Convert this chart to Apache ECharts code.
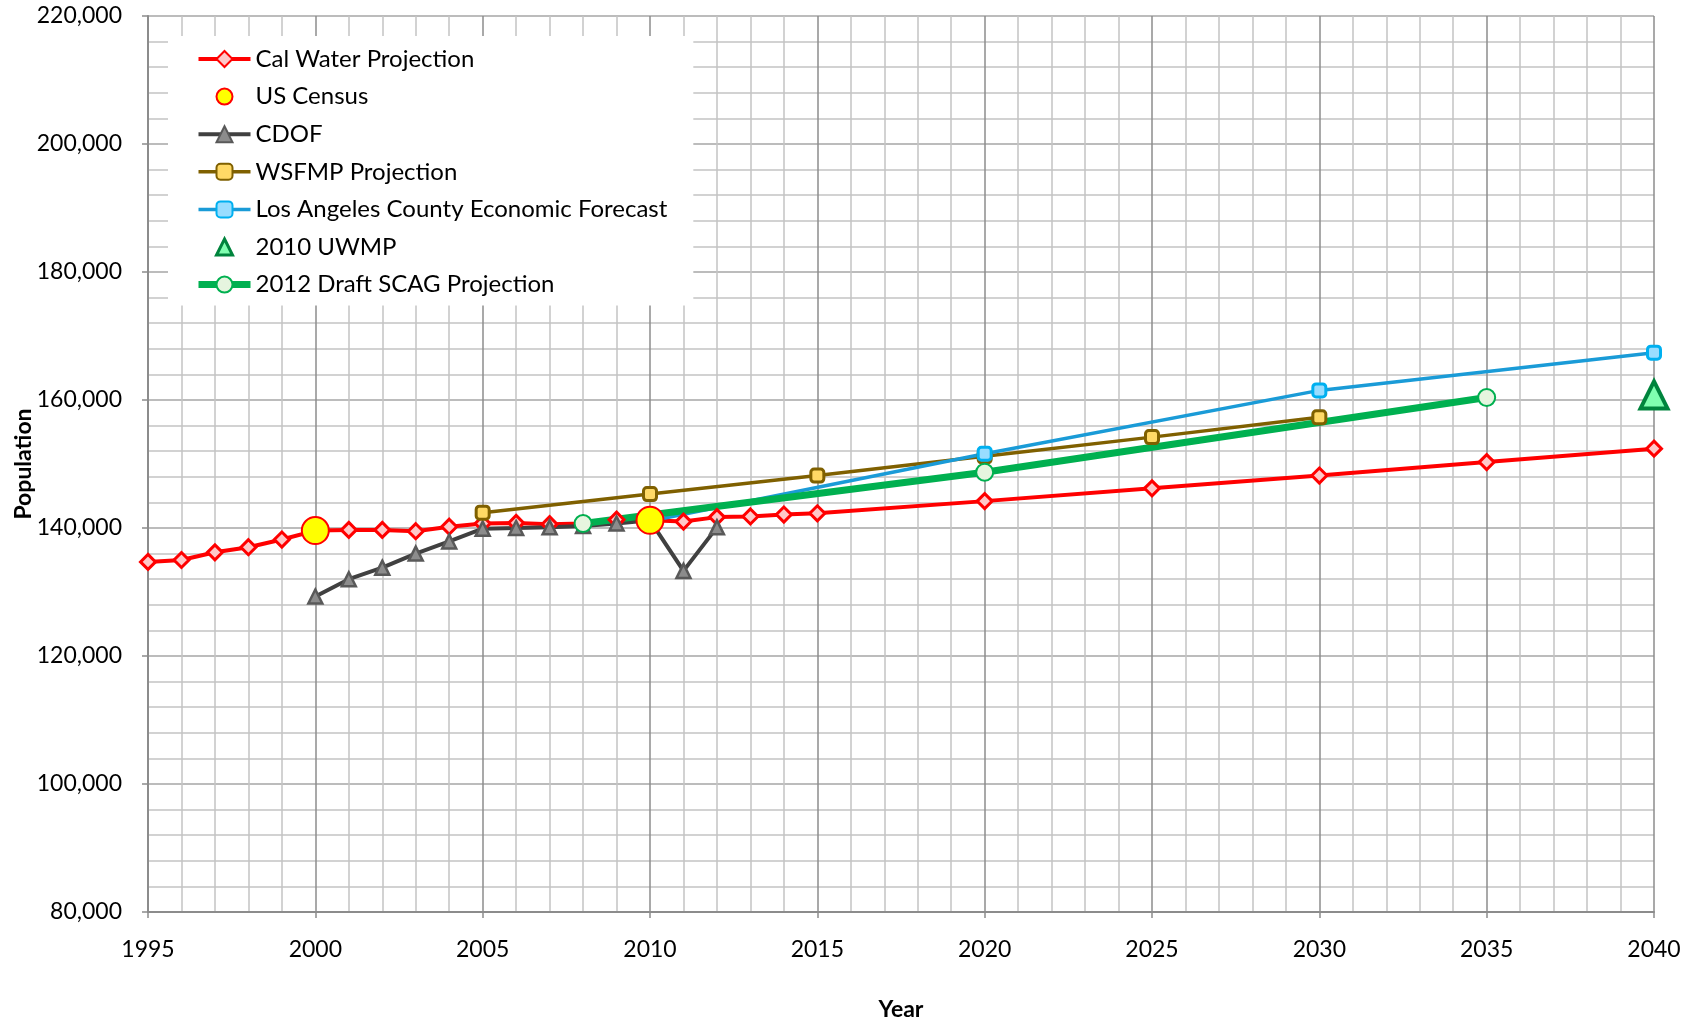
<!DOCTYPE html>
<html>
<head>
<meta charset="utf-8">
<title>Population Projections</title>
<script src="https://cdn.jsdelivr.net/npm/echarts@6/dist/echarts.min.js"></script>
<style>
  html, body { margin: 0; padding: 0; background: #fff; }
  #chart { width: 1697px; height: 1025px; }
</style>
</head>
<body>
<div id="chart"></div>
<script>
  // years and values
  const calWaterYears = [1995, 1996, 1997, 1998, 1999, 2000, 2001, 2002, 2003, 2004, 2005, 2006, 2007, 2008, 2009, 2010, 2011, 2012, 2013, 2014, 2015, 2020, 2025, 2030, 2035, 2040]
  const calWaterValues = [134700, 135000, 136200, 137000, 138200, 139600, 139700, 139700, 139500, 140200, 140700, 140800, 140600, 140700, 141300, 141200, 141000, 141700, 141800, 142100, 142300, 144200, 146200, 148200, 150300, 152400]

  const censusYears = [2000, 2010]
  const censusValues = [139600, 141200]

  const cdofYears = [2000, 2001, 2002, 2003, 2004, 2005, 2006, 2007, 2008, 2009, 2010, 2011, 2012]
  const cdofValues = [129300, 132000, 133800, 136000, 137900, 139900, 140000, 140100, 140300, 140700, 141200, 133300, 140100]

  const wsfmpYears = [2005, 2010, 2015, 2020, 2025, 2030]
  const wsfmpValues = [142400, 145300, 148200, 151200, 154200, 157300]

  const laYears = [2010, 2020, 2030, 2040]
  const laValues = [141100, 151600, 161500, 167400]

  const uwmpYears = [2040]
  const uwmpValues = [160800]

  const scagYears = [2008, 2020, 2035]
  const scagValues = [140700, 148700, 160400]

  const legendNames = ['Cal Water Projection', 'US Census', 'CDOF', 'WSFMP Projection',
    'Los Angeles County Economic Forecast', '2010 UWMP', '2012 Draft SCAG Projection']

  const FONT = 'Lato'

  function pairs(xs, ys) {
    return xs.map((x, i) => [x, ys[i]])
  }

  function lineSeries(name, xs, ys, lineColor, lineWidth, symbol, size, fill, border, borderWidth) {
    return {
      name: name,
      type: 'line',
      data: pairs(xs, ys),
      symbol: symbol,
      symbolSize: size,
      showSymbol: true,
      lineStyle: { color: lineColor, width: lineWidth },
      itemStyle: { color: fill, borderColor: border, borderWidth: borderWidth },
      emphasis: { disabled: true }
    }
  }

  function pointSeries(name, xs, ys, symbol, size, fill, border, borderWidth) {
    return {
      name: name,
      type: 'line',
      data: pairs(xs, ys),
      symbol: symbol,
      symbolSize: size,
      showSymbol: true,
      lineStyle: { width: 0, opacity: 0 },
      itemStyle: { color: fill, borderColor: border, borderWidth: borderWidth },
      emphasis: { disabled: true }
    }
  }

  // legend entries; the UWMP triangle gets a heavier outline like the original
  const legendData = legendNames.map(n => {
    if (n === '2010 UWMP') {
      return { name: n, itemStyle: { borderWidth: 3, borderColor: '#00843d', color: '#80ffb0' } }
    }
    return { name: n }
  })

  const myChart = echarts.init(document.getElementById('chart'))

  const option = {
    animation: false,
    backgroundColor: '#fff',
    textStyle: { fontFamily: FONT },
    grid: {
      left: 148,
      right: 43,
      top: 16,
      bottom: 113,
      containLabel: false,
      outerBoundsMode: 'none'
    },
    legend: {
      data: legendData,
      orient: 'vertical',
      left: 168,
      top: 36,
      backgroundColor: '#fff',
      padding: [11, 26, 9, 27],
      itemWidth: 52,
      itemHeight: 20,
      itemGap: 13.6,
      lineStyle: { width: 'inherit' },
      textStyle: { fontFamily: FONT, fontSize: 24, lineHeight: 24, color: '#000' }
    },
    xAxis: {
      type: 'value',
      min: 1995,
      max: 2040,
      interval: 5,
      name: 'Year',
      nameLocation: 'middle',
      nameGap: 86,
      nameTextStyle: { fontFamily: FONT, fontSize: 23, fontWeight: 'bold', color: '#000' },
      axisLine: { show: true, onZero: false, lineStyle: { color: '#8c8c8c', width: 2 } },
      axisTick: { show: true, length: 6, lineStyle: { color: '#8c8c8c', width: 1.5 } },
      axisLabel: {
        margin: 26,
        fontFamily: FONT,
        fontSize: 23,
        color: '#000',
        formatter: v => String(v)
      },
      splitLine: { show: true, lineStyle: { color: '#8c8c8c', width: 1.5 } },
      minorTick: { show: false, splitNumber: 5 },
      minorSplitLine: { show: true, lineStyle: { color: '#c4c4c4', width: 1.5 } }
    },
    yAxis: {
      type: 'value',
      min: 80000,
      max: 220000,
      interval: 20000,
      name: 'Population',
      nameLocation: 'middle',
      nameGap: 113,
      nameMoveOverlap: false,
      nameTextStyle: { fontFamily: FONT, fontSize: 23, fontWeight: 'bold', color: '#000' },
      axisLine: { show: true, lineStyle: { color: '#8c8c8c', width: 2 } },
      axisTick: { show: true, length: 6, lineStyle: { color: '#8c8c8c', width: 1.5 } },
      axisLabel: {
        margin: 26,
        fontFamily: FONT,
        fontSize: 23,
        color: '#000',
        formatter: v => v.toLocaleString('en-US')
      },
      splitLine: { show: true, lineStyle: { color: '#a6a6a6', width: 1.5 } },
      minorTick: { show: false, splitNumber: 5 },
      minorSplitLine: { show: true, lineStyle: { color: '#c4c4c4', width: 1.5 } }
    },
    series: [
      lineSeries('Cal Water Projection', calWaterYears, calWaterValues, '#ff0000', 4, 'diamond', 15, '#ffc8c8', '#ff0000', 3),
      lineSeries('CDOF', cdofYears, cdofValues, '#404040', 4, 'triangle', 14, '#8c8c8c', '#595959', 2.5),
      lineSeries('WSFMP Projection', wsfmpYears, wsfmpValues, '#7f6000', 3.5, 'roundRect', 13, '#ffd966', '#7f6000', 3),
      lineSeries('Los Angeles County Economic Forecast', laYears, laValues, '#1a9bd7', 3.5, 'roundRect', 13, '#99ddff', '#00b0f0', 3),
      lineSeries('2012 Draft SCAG Projection', scagYears, scagValues, '#00b050', 7, 'circle', 17, '#e6f5df', '#00b050', 2),
      pointSeries('US Census', censusYears, censusValues, 'circle', 27, '#ffff00', '#ff0000', 2),
      pointSeries('2010 UWMP', uwmpYears, uwmpValues, 'triangle', 27, '#80ffb0', '#00843d', 4)
    ]
  }

  myChart.setOption(option)
</script>
</body>
</html>
